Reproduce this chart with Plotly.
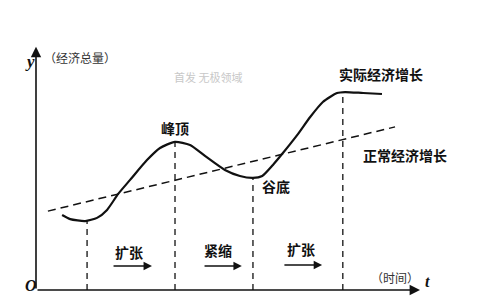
import plotly.graph_objects as go

# Actual economic growth curve (t, output)
curve_t = [0.68, 0.89, 1.28, 1.59, 1.85, 2.14, 2.45, 2.89, 3.23, 3.62, 4.01, 4.40,
           4.92, 5.31, 5.65, 5.89, 6.17, 6.43, 6.80, 7.14, 7.47, 7.84, 8.05, 8.52, 9.01]
curve_y = [3.10, 2.93, 2.85, 2.98, 3.31, 3.97, 4.55, 5.37, 5.87, 6.12, 5.99, 5.54,
           4.96, 4.71, 4.63, 4.71, 5.17, 5.66, 6.40, 7.15, 7.77, 8.14, 8.18, 8.14, 8.10]

# Normal (trend) growth line
trend_t = [0.31, 9.35]
trend_y = [3.26, 6.74]

# Turning points (trough, peak, trough, peak)
turn_t = [1.33, 3.62, 5.65, 7.99]
turn_y = [2.85, 6.12, 4.63, 8.18]

# Phases
phase_labels = ["扩张", "紧缩", "扩张"]
phase_label_t = [2.42, 4.74, 6.90]
phase_label_y = [1.57, 1.65, 1.69]
phase_arrow_start = [1.98, 4.35, 6.43]
phase_arrow_end = [3.02, 5.36, 7.45]
phase_arrow_y = [0.99, 0.99, 1.03]

CJK = "Noto Sans CJK SC"
fig = go.Figure()

# vertical dashed lines at turning points
for t, y in zip(turn_t, turn_y):
    fig.add_trace(go.Scatter(x=[t, t], y=[0, y], mode="lines",
                             line=dict(color="#111", width=1.3, dash="6px,5px"),
                             hoverinfo="skip", showlegend=False))

fig.add_trace(go.Scatter(x=trend_t, y=trend_y, mode="lines",
                         line=dict(color="#111", width=1.5, dash="8px,5px"),
                         showlegend=False))
fig.add_trace(go.Scatter(x=curve_t, y=curve_y, mode="lines",
                         line=dict(color="#111", width=2.2, shape="spline", smoothing=0.6),
                         showlegend=False))

ann = []
# axes with arrows
ann.append(dict(x=10.0, y=0, ax=0, ay=0, xref="x", yref="y", axref="x", ayref="y",
                text="", showarrow=True, arrowhead=2, arrowsize=1.3, arrowwidth=1.6,
                arrowcolor="#111"))
ann.append(dict(x=0, y=10.05, ax=0, ay=0, xref="x", yref="y", axref="x", ayref="y",
                text="", showarrow=True, arrowhead=2, arrowsize=1.3, arrowwidth=1.6,
                arrowcolor="#111"))
# phase arrows
for s, e, y in zip(phase_arrow_start, phase_arrow_end, phase_arrow_y):
    ann.append(dict(x=e, y=y, ax=s, ay=y, xref="x", yref="y", axref="x", ayref="y",
                    text="", showarrow=True, arrowhead=2, arrowsize=1.2, arrowwidth=1.4,
                    arrowcolor="#111"))
for lab, t, y in zip(phase_labels, phase_label_t, phase_label_y):
    ann.append(dict(x=t, y=y, text=lab, showarrow=False,
                    font=dict(family=CJK, size=14, color="#111", weight="bold")))

def label(t, y, text, size=14, color="#111", weight="bold", family=CJK, style="normal",
          ref="x"):
    xref, yref = ("paper", "paper") if ref == "paper" else ("x", "y")
    ann.append(dict(x=t, y=y, xref=xref, yref=yref, text=text, showarrow=False,
                    font=dict(family=family, size=size, color=color, weight=weight, style=style)))

label(3.62, 6.69, "峰顶")
label(6.25, 4.30, "谷底")
label(8.98, 8.93, "实际经济增长")
label(9.61, 5.58, "正常经济增长")
label(1.15, 9.59, "（经济总量）", size=12, color="#333", weight="normal")
label(9.36, 0.52, "（时间）", size=12, color="#333", weight="normal")
label(4.48, 8.80, "首发 无极领域", size=11, color="#c8c8c8", weight="normal")
label(-0.034, 0.99, "y", size=17, family="Liberation Serif", style="italic", ref="paper")
label(-0.034, -0.025, "O", size=16, family="Liberation Serif", style="italic", ref="paper")
label(1.03, -0.01, "t", size=16, family="Liberation Serif", style="italic", ref="paper")

fig.update_layout(
    width=480, height=300,
    margin=dict(l=36, r=60, t=48, b=10),
    paper_bgcolor="white", plot_bgcolor="white",
    xaxis=dict(range=[0, 10], visible=False, fixedrange=True),
    yaxis=dict(range=[0, 10], visible=False, fixedrange=True),
    annotations=ann,
    showlegend=False,
)
fig.write_html("out.html", config={"displayModeBar": False})
